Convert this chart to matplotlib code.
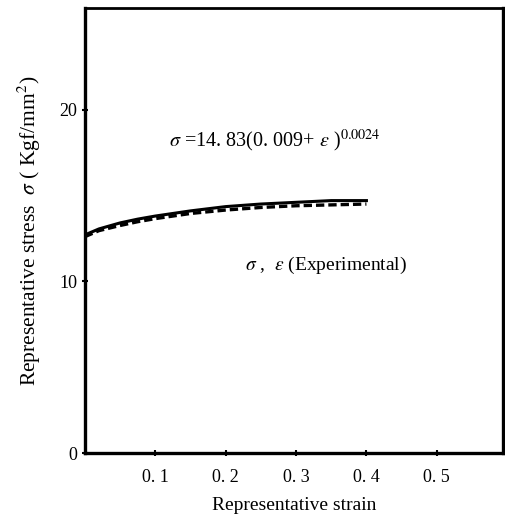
import matplotlib.pyplot as plt
import numpy as np

plt.rcParams['font.family'] = ['Liberation Serif', 'DejaVu Serif']
plt.rcParams['mathtext.fontset'] = 'stix'

strain = [0.0, 0.02, 0.05, 0.075, 0.1, 0.15, 0.2, 0.25, 0.3, 0.35, 0.4]
stress_fit = [12.7, 13.05, 13.4, 13.62, 13.8, 14.1, 14.35, 14.5, 14.6, 14.7, 14.7]
stress_exp = [12.6, 12.95, 13.25, 13.47, 13.65, 13.95, 14.15, 14.3, 14.4, 14.45, 14.5]

xticks = [0.1, 0.2, 0.3, 0.4, 0.5]
xtick_labels = ['0. 1', '0. 2', '0. 3', '0. 4', '0. 5']
yticks = [0, 10, 20]

fig = plt.figure(figsize=(5.05, 5.16), dpi=100)
ax = fig.add_axes([0.168, 0.122, 0.828, 0.862])

ax.plot(strain, stress_fit, color='black', linewidth=2.2, linestyle='-')
ax.plot(strain, stress_exp, color='black', linewidth=2.4, linestyle=(0, (2.5, 1.2)))

ax.text(0.12, 18.2, r'$\sigma$ =14. 83(0. 009+ $\epsilon$ )$^{0.0024}$',
        fontsize=14.5, va='center', ha='left')
ax.text(0.227, 10.9, r'$\sigma$ ,  $\epsilon$ (Experimental)',
        fontsize=14, va='center', ha='left')

ax.set_xlim(0, 0.594)
ax.set_ylim(0, 25.9)
ax.set_xticks(xticks)
ax.set_xticklabels(xtick_labels)
ax.set_yticks(yticks)
ax.tick_params(direction='inout', length=5, width=1.5, labelsize=13)
ax.tick_params(axis='x', pad=9)
ax.tick_params(axis='y', pad=3)

for side in ['left', 'bottom', 'right']:
    ax.spines[side].set_linewidth(2.4)
ax.spines['top'].set_linewidth(2.0)

ax.set_xlabel('Representative strain', fontsize=14, labelpad=8)
ax.set_ylabel(r'Representative stress  $\sigma$ ( Kgf/mm$^2$)', fontsize=15.5, labelpad=12)

fig.savefig('out.png', dpi=100)
